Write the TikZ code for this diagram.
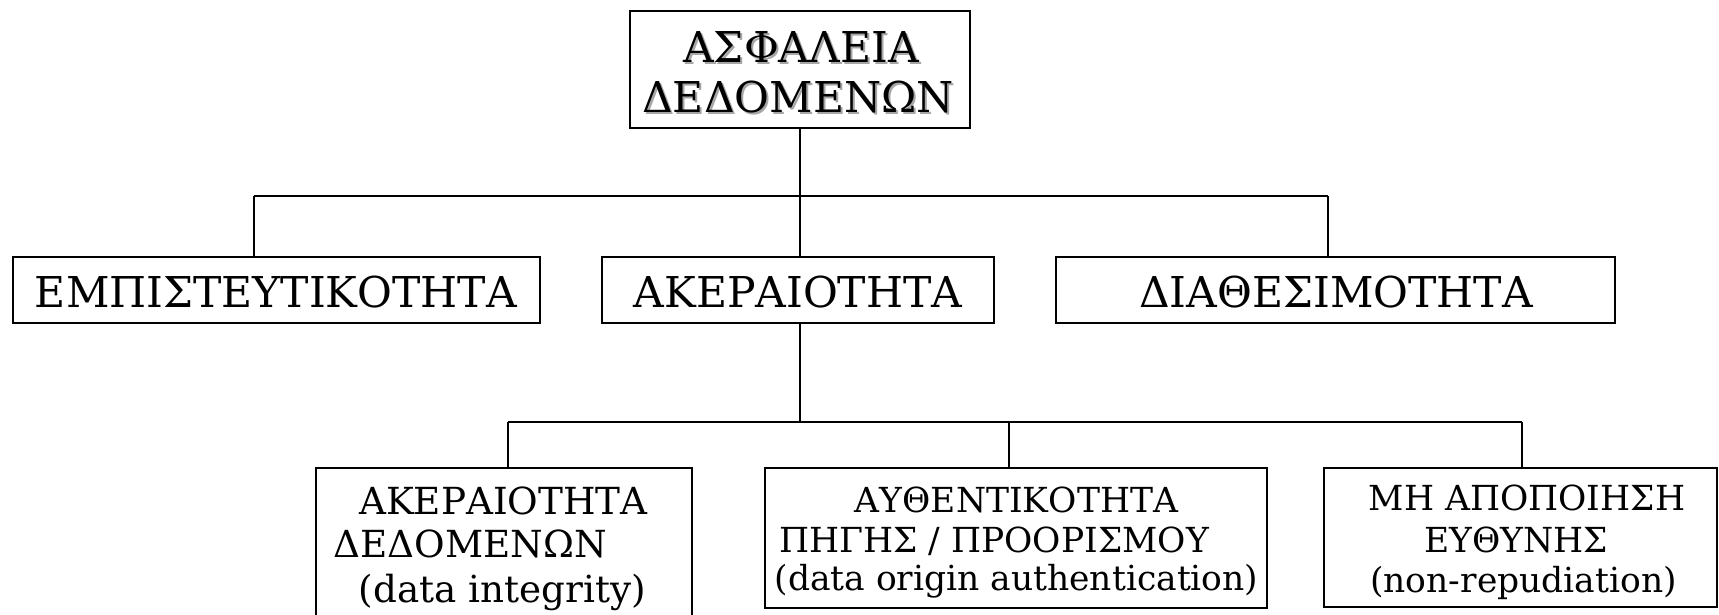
\documentclass[tikz,border=0pt]{standalone}
\usepackage{fontspec}
\setmainfont{DejaVu Serif}
\begin{document}
\begin{tikzpicture}[x=1pt,y=-1pt,
  box/.style={draw=black,line width=2.3pt,rectangle,inner sep=0pt,fill=white},
  lowbox/.style={draw=black,line width=2pt,rectangle,inner sep=0pt,fill=white},
  conn/.style={draw=black,line width=2.3pt},
  big/.style={inner sep=0pt,anchor=base,font=\fontsize{42.5}{50}\selectfont},
  small/.style={inner sep=0pt,anchor=base,font=\fontsize{34.5}{40}\selectfont},
  smallb/.style={inner sep=0pt,anchor=base,font=\fontsize{37.3}{44}\selectfont},
  shadowtxt/.style={big,text=black!35}]
\clip (0,0) rectangle (1719,614);
\fill[white] (0,0) rectangle (1719,614);
% junction coordinates
\coordinate (j1) at (800,196);
\coordinate (h1L) at (254,196);
\coordinate (h1R) at (1328,196);
\coordinate (j2) at (800,422);
\coordinate (h2L) at (508,422);
\coordinate (h2M) at (1009,422);
\coordinate (h2R) at (1522,422);
% boxes
\node[box,minimum width=340pt,minimum height=117pt] (top) at (800,69.5) {};
\node[box,minimum width=527pt,minimum height=66pt] (conf) at (276.5,290) {};
\node[box,minimum width=392pt,minimum height=66pt] (integ) at (798,290) {};
\node[box,minimum width=559pt,minimum height=66pt] (avail) at (1335.5,290) {};
\node[lowbox,minimum width=376pt,minimum height=180pt] (dint) at (504,558) {};
\node[lowbox,minimum width=502pt,minimum height=140pt] (dorig) at (1016,538) {};
\node[lowbox,minimum width=393pt,minimum height=139pt] (nonrep) at (1520.5,537.5) {};
% connectors
\draw[conn] (top.south -| j1) -- (j1);
\draw[conn] (h1L) -- (h1R);
\draw[conn] (h1L) -- (h1L |- conf.north);
\draw[conn] (j1) -- (j1 |- integ.north);
\draw[conn] (h1R) -- (h1R |- avail.north);
\draw[conn] (j2 |- integ.south) -- (j2);
\draw[conn] (h2L) -- (h2R);
\draw[conn] (h2L) -- (h2L |- dint.north);
\draw[conn] (h2M) -- (h2M |- dorig.north);
\draw[conn] (h2R) -- (h2R |- nonrep.north);
% title text with shadow
\node[shadowtxt] (t1s) at (803,64) {ΑΣΦΑΛΕΙΑ};
\node[shadowtxt] (t2s) at (800,114) {ΔΕΔΟΜΕΝΩΝ};
\node[big] (t1) at (801,62) {ΑΣΦΑΛΕΙΑ};
\node[big] (t2) at (798,112) {ΔΕΔΟΜΕΝΩΝ};
% middle row text
\node[big] (conft) at (276,307) {ΕΜΠΙΣΤΕΥΤΙΚΟΤΗΤΑ};
\node[big] (integt) at (798,307) {ΑΚΕΡΑΙΟΤΗΤΑ};
\node[big] (availt) at (1336,307) {ΔΙΑΘΕΣΙΜΟΤΗΤΑ};
% bottom row text
\node[smallb] (d1) at (503.5,514) {ΑΚΕΡΑΙΟΤΗΤΑ};
\node[smallb] (d2) at (470,557) {ΔΕΔΟΜΕΝΩΝ};
\node[smallb] (d3) at (502.5,602) {(data integrity)};
\node[small] (o1) at (1016.5,512) {ΑΥΘΕΝΤΙΚΟΤΗΤΑ};
\node[small] (o2) at (994,552) {ΠΗΓΗΣ / ΠΡΟΟΡΙΣΜΟΥ};
\node[small] (o3) at (1016.5,590) {(data origin authentication)};
\node[small] (n1) at (1527,510) {ΜΗ ΑΠΟΠΟΙΗΣΗ};
\node[small] (n2) at (1516,552) {ΕΥΘΥΝΗΣ};
\node[small] (n3) at (1523.5,592) {(non-repudiation)};
\end{tikzpicture}
\end{document}
